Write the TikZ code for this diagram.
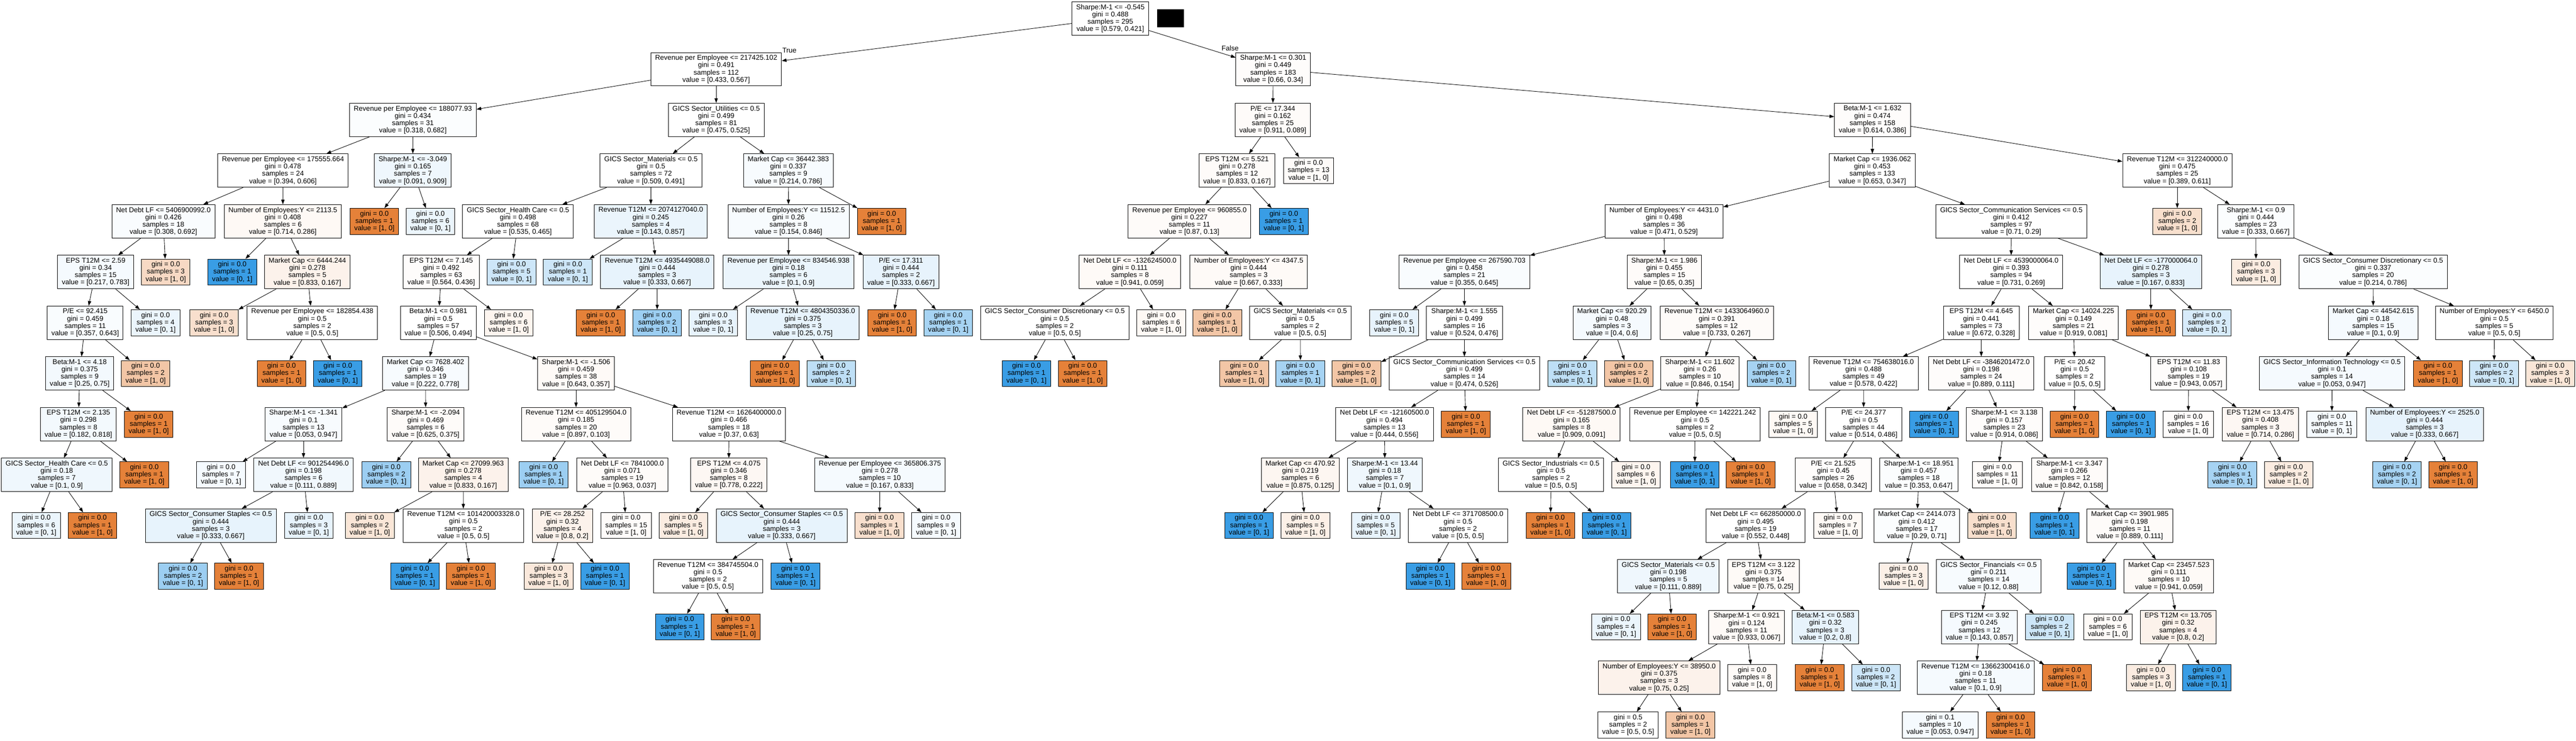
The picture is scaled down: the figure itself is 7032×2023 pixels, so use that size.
\documentclass[tikz,border=0pt]{standalone}
\usepackage{fontspec}
\setmainfont{Liberation Sans}
\usepackage{xcolor}
\usepackage{tikz}
\usetikzlibrary{arrows.meta}
\definecolor{classzero}{RGB}{229,129,57}
\definecolor{classone}{RGB}{57,157,229}
\tikzstyle{splitnode} = [rectangle, minimum height=0.91cm, inner xsep=0.115cm, inner ysep=0.02cm, text centered, align=center, draw=black, line width=0.4pt, font=\fontsize{5.43pt}{5.69pt}\selectfont]
\tikzstyle{leafnode} = [splitnode, minimum height=0.71cm]
\tikzstyle{arrow} = [line width=0.35pt, -{Triangle[length=3.7pt, width=2.6pt]}]
\tikzstyle{edgelabel} = [font=\fontsize{5.43pt}{5.69pt}\selectfont, inner sep=0pt]

\begin{document}
\begin{tikzpicture}[x=0.01cm, y=-0.01cm]
  \path [use as bounding box, fill=white] (0,0) rectangle (7032,2023);

  % Nodes
  \node (node0) [splitnode, fill=white] at (3031,50.5) {Sharpe:M-1 <= -0.545\\gini = 0.488\\samples = 295\\value = [0.579, 0.421]};
  \node (node1) [splitnode, fill=white] at (1955,189) {Revenue per Employee <= 217425.102\\gini = 0.491\\samples = 112\\value = [0.433, 0.567]};
  \node (node2) [splitnode, fill=classone!2] at (1127,327.5) {Revenue per Employee <= 188077.93\\gini = 0.434\\samples = 31\\value = [0.318, 0.682]};
  \node (node3) [splitnode, fill=white] at (772.5,466) {Revenue per Employee <= 175555.664\\gini = 0.478\\samples = 24\\value = [0.394, 0.606]};
  \node (node4) [splitnode, fill=classone!3] at (446,604.5) {Net Debt LF <= 5406900992.0\\gini = 0.426\\samples = 18\\value = [0.308, 0.692]};
  \node (node5) [splitnode, fill=classone!5] at (261,743) {EPS T12M <= 2.59\\gini = 0.34\\samples = 15\\value = [0.217, 0.783]};
  \node (node6) [splitnode, fill=classone!3] at (232.5,881.5) {P/E <= 92.415\\gini = 0.459\\samples = 11\\value = [0.357, 0.643]};
  \node (node7) [splitnode, fill=classone!6] at (217.5,1020) {Beta:M-1 <= 4.18\\gini = 0.375\\samples = 9\\value = [0.25, 0.75]};
  \node (node8) [splitnode, fill=classone!6] at (214,1158.5) {EPS T12M <= 2.135\\gini = 0.298\\samples = 8\\value = [0.182, 0.818]};
  \node (node9) [splitnode, fill=classone!8] at (155,1297) {GICS Sector\_Health Care <= 0.5\\gini = 0.18\\samples = 7\\value = [0.1, 0.9]};
  \node (node10) [leafnode, fill=classone!10] at (99,1435.5) {gini = 0.0\\samples = 6\\value = [0, 1]};
  \node (node11) [leafnode, fill=classzero] at (252.5,1435.5) {gini = 0.0\\samples = 1\\value = [1, 0]};
  \node (node12) [leafnode, fill=classzero] at (394,1297) {gini = 0.0\\samples = 1\\value = [1, 0]};
  \node (node13) [leafnode, fill=classzero] at (406,1158.5) {gini = 0.0\\samples = 1\\value = [1, 0]};
  \node (node14) [leafnode, fill=classzero!45] at (397.5,1020) {gini = 0.0\\samples = 2\\value = [1, 0]};
  \node (node15) [leafnode, fill=classone!10] at (424.5,881.5) {gini = 0.0\\samples = 4\\value = [0, 1]};
  \node (node16) [leafnode, fill=classzero!30] at (452.5,743) {gini = 0.0\\samples = 3\\value = [1, 0]};
  \node (node17) [splitnode, fill=classzero!5] at (772,604.5) {Number of Employees:Y <= 2113.5\\gini = 0.408\\samples = 6\\value = [0.714, 0.286]};
  \node (node18) [leafnode, fill=classone] at (634,743) {gini = 0.0\\samples = 1\\value = [0, 1]};
  \node (node19) [splitnode, fill=classzero!10] at (839,743) {Market Cap <= 6444.244\\gini = 0.278\\samples = 5\\value = [0.833, 0.167]};
  \node (node20) [leafnode, fill=classzero!25] at (584.5,881.5) {gini = 0.0\\samples = 3\\value = [1, 0]};
  \node (node21) [splitnode, fill=white] at (852.5,881.5) {Revenue per Employee <= 182854.438\\gini = 0.5\\samples = 2\\value = [0.5, 0.5]};
  \node (node22) [leafnode, fill=classzero] at (768.5,1020) {gini = 0.0\\samples = 1\\value = [1, 0]};
  \node (node23) [leafnode, fill=classone] at (922,1020) {gini = 0.0\\samples = 1\\value = [0, 1]};
  \node (node24) [splitnode, fill=classone!8] at (1127,466) {Sharpe:M-1 <= -3.049\\gini = 0.165\\samples = 7\\value = [0.091, 0.909]};
  \node (node25) [leafnode, fill=classzero] at (1022,604.5) {gini = 0.0\\samples = 1\\value = [1, 0]};
  \node (node26) [leafnode, fill=classone!10] at (1175,604.5) {gini = 0.0\\samples = 6\\value = [0, 1]};
  \node (node27) [splitnode, fill=white] at (1955,327.5) {GICS Sector\_Utilities <= 0.5\\gini = 0.499\\samples = 81\\value = [0.475, 0.525]};
  \node (node28) [splitnode, fill=white] at (1777,466) {GICS Sector\_Materials <= 0.5\\gini = 0.5\\samples = 72\\value = [0.509, 0.491]};
  \node (node29) [splitnode, fill=white] at (1414,604.5) {GICS Sector\_Health Care <= 0.5\\gini = 0.498\\samples = 68\\value = [0.535, 0.465]};
  \node (node30) [splitnode, fill=classzero!2] at (1204.5,743) {EPS T12M <= 7.145\\gini = 0.492\\samples = 63\\value = [0.564, 0.436]};
  \node (node31) [splitnode, fill=white] at (1196.5,881.5) {Beta:M-1 <= 0.981\\gini = 0.5\\samples = 57\\value = [0.506, 0.494]};
  \node (node32) [splitnode, fill=classone!4] at (1161.5,1020) {Market Cap <= 7628.402\\gini = 0.346\\samples = 19\\value = [0.222, 0.778]};
  \node (node33) [splitnode, fill=classone!4] at (828.5,1158.5) {Sharpe:M-1 <= -1.341\\gini = 0.1\\samples = 13\\value = [0.053, 0.947]};
  \node (node34) [leafnode, fill=classone!5] at (603.5,1297) {gini = 0.0\\samples = 7\\value = [0, 1]};
  \node (node35) [splitnode, fill=classone!7] at (828.5,1297) {Net Debt LF <= 901254496.0\\gini = 0.198\\samples = 6\\value = [0.111, 0.889]};
  \node (node36) [splitnode, fill=classone!12] at (575.5,1435.5) {GICS Sector\_Consumer Staples <= 0.5\\gini = 0.444\\samples = 3\\value = [0.333, 0.667]};
  \node (node37) [leafnode, fill=classone!50] at (499.5,1574) {gini = 0.0\\samples = 2\\value = [0, 1]};
  \node (node38) [leafnode, fill=classzero] at (652.5,1574) {gini = 0.0\\samples = 1\\value = [1, 0]};
  \node (node39) [leafnode, fill=classone!12] at (843,1435.5) {gini = 0.0\\samples = 3\\value = [0, 1]};
  \node (node40) [splitnode, fill=classzero!3] at (1162,1158.5) {Sharpe:M-1 <= -2.094\\gini = 0.469\\samples = 6\\value = [0.625, 0.375]};
  \node (node41) [leafnode, fill=classone!50] at (1054.5,1297) {gini = 0.0\\samples = 2\\value = [0, 1]};
  \node (node42) [splitnode, fill=classzero!10] at (1264.5,1297) {Market Cap <= 27099.963\\gini = 0.278\\samples = 4\\value = [0.833, 0.167]};
  \node (node43) [leafnode, fill=classzero!20] at (1009.5,1435.5) {gini = 0.0\\samples = 2\\value = [1, 0]};
  \node (node44) [splitnode, fill=white] at (1265,1435.5) {Revenue T12M <= 101420003328.0\\gini = 0.5\\samples = 2\\value = [0.5, 0.5]};
  \node (node45) [leafnode, fill=classone] at (1132.5,1574) {gini = 0.0\\samples = 1\\value = [0, 1]};
  \node (node46) [leafnode, fill=classzero] at (1285.5,1574) {gini = 0.0\\samples = 1\\value = [1, 0]};
  \node (node47) [splitnode, fill=classzero!4] at (1572.5,1020) {Sharpe:M-1 <= -1.506\\gini = 0.459\\samples = 38\\value = [0.643, 0.357]};
  \node (node48) [splitnode, fill=classzero!3] at (1572.5,1158.5) {Revenue T12M <= 405129504.0\\gini = 0.185\\samples = 20\\value = [0.897, 0.103]};
  \node (node49) [leafnode, fill=classone!50] at (1484,1297) {gini = 0.0\\samples = 1\\value = [0, 1]};
  \node (node50) [splitnode, fill=classzero!3] at (1699,1297) {Net Debt LF <= 7841000.0\\gini = 0.071\\samples = 19\\value = [0.963, 0.037]};
  \node (node51) [splitnode, fill=classzero!10] at (1535.5,1435.5) {P/E <= 28.252\\gini = 0.32\\samples = 4\\value = [0.8, 0.2]};
  \node (node52) [leafnode, fill=classzero!18] at (1497.5,1574) {gini = 0.0\\samples = 3\\value = [1, 0]};
  \node (node53) [leafnode, fill=classone] at (1651.5,1574) {gini = 0.0\\samples = 1\\value = [0, 1]};
  \node (node54) [leafnode, fill=classzero!3] at (1709.5,1435.5) {gini = 0.0\\samples = 15\\value = [1, 0]};
  \node (node55) [splitnode, fill=white] at (1990,1158.5) {Revenue T12M <= 1626400000.0\\gini = 0.466\\samples = 18\\value = [0.37, 0.63]};
  \node (node56) [splitnode, fill=classzero!6] at (1989.5,1297) {EPS T12M <= 4.075\\gini = 0.346\\samples = 8\\value = [0.778, 0.222]};
  \node (node57) [leafnode, fill=classzero!15] at (1865.5,1435.5) {gini = 0.0\\samples = 5\\value = [1, 0]};
  \node (node58) [splitnode, fill=classone!12] at (2134,1435.5) {GICS Sector\_Consumer Staples <= 0.5\\gini = 0.444\\samples = 3\\value = [0.333, 0.667]};
  \node (node59) [splitnode, fill=white] at (1932.5,1574) {Revenue T12M <= 384745504.0\\gini = 0.5\\samples = 2\\value = [0.5, 0.5]};
  \node (node60) [leafnode, fill=classone] at (1855.5,1712.5) {gini = 0.0\\samples = 1\\value = [0, 1]};
  \node (node61) [leafnode, fill=classzero] at (2008.5,1712.5) {gini = 0.0\\samples = 1\\value = [1, 0]};
  \node (node62) [leafnode, fill=classone] at (2171.5,1574) {gini = 0.0\\samples = 1\\value = [0, 1]};
  \node (node63) [splitnode, fill=classone!5] at (2402,1297) {Revenue per Employee <= 365806.375\\gini = 0.278\\samples = 10\\value = [0.167, 0.833]};
  \node (node64) [leafnode, fill=classzero!25] at (2401,1435.5) {gini = 0.0\\samples = 1\\value = [1, 0]};
  \node (node65) [leafnode, fill=classone!5] at (2555.5,1435.5) {gini = 0.0\\samples = 9\\value = [0, 1]};
  \node (node66) [leafnode, fill=classzero!8] at (1388.5,881.5) {gini = 0.0\\samples = 6\\value = [1, 0]};
  \node (node67) [leafnode, fill=classone!25] at (1396.5,743) {gini = 0.0\\samples = 5\\value = [0, 1]};
  \node (node68) [splitnode, fill=classone!10] at (1776.5,604.5) {Revenue T12M <= 2074127040.0\\gini = 0.245\\samples = 4\\value = [0.143, 0.857]};
  \node (node69) [leafnode, fill=classone!25] at (1550,743) {gini = 0.0\\samples = 1\\value = [0, 1]};
  \node (node70) [splitnode, fill=classone!12] at (1794,743) {Revenue T12M <= 4935449088.0\\gini = 0.444\\samples = 3\\value = [0.333, 0.667]};
  \node (node71) [leafnode, fill=classzero] at (1640,881.5) {gini = 0.0\\samples = 1\\value = [1, 0]};
  \node (node72) [leafnode, fill=classone!50] at (1794,881.5) {gini = 0.0\\samples = 2\\value = [0, 1]};
  \node (node73) [splitnode, fill=classone!4] at (2152,466) {Market Cap <= 36442.383\\gini = 0.337\\samples = 9\\value = [0.214, 0.786]};
  \node (node74) [splitnode, fill=classone!4] at (2152.5,604.5) {Number of Employees:Y <= 11512.5\\gini = 0.26\\samples = 8\\value = [0.154, 0.846]};
  \node (node75) [splitnode, fill=classone!10] at (2152.5,743) {Revenue per Employee <= 834546.938\\gini = 0.18\\samples = 6\\value = [0.1, 0.9]};
  \node (node76) [leafnode, fill=classone!12] at (1947,881.5) {gini = 0.0\\samples = 3\\value = [0, 1]};
  \node (node77) [splitnode, fill=classone!12] at (2191.5,881.5) {Revenue T12M <= 4804350336.0\\gini = 0.375\\samples = 3\\value = [0.25, 0.75]};
  \node (node78) [leafnode, fill=classzero] at (2115.5,1020) {gini = 0.0\\samples = 1\\value = [1, 0]};
  \node (node79) [leafnode, fill=classone!33] at (2269,1020) {gini = 0.0\\samples = 2\\value = [0, 1]};
  \node (node80) [splitnode, fill=classone!12] at (2459.5,743) {P/E <= 17.311\\gini = 0.444\\samples = 2\\value = [0.333, 0.667]};
  \node (node81) [leafnode, fill=classzero] at (2435.5,881.5) {gini = 0.0\\samples = 1\\value = [1, 0]};
  \node (node82) [leafnode, fill=classone!45] at (2588.5,881.5) {gini = 0.0\\samples = 1\\value = [0, 1]};
  \node (node83) [leafnode, fill=classzero] at (2407,604.5) {gini = 0.0\\samples = 1\\value = [1, 0]};
  \node (node84) [splitnode, fill=classzero!2] at (3475.5,189) {Sharpe:M-1 <= 0.301\\gini = 0.449\\samples = 183\\value = [0.66, 0.34]};
  \node (node85) [splitnode, fill=classzero!3] at (3474.5,327.5) {P/E <= 17.344\\gini = 0.162\\samples = 25\\value = [0.911, 0.089]};
  \node (node86) [splitnode, fill=classzero!3] at (3377,466) {EPS T12M <= 5.521\\gini = 0.278\\samples = 12\\value = [0.833, 0.167]};
  \node (node87) [splitnode, fill=classzero!3] at (3247,604.5) {Revenue per Employee <= 960855.0\\gini = 0.227\\samples = 11\\value = [0.87, 0.13]};
  \node (node88) [splitnode, fill=classzero!4] at (3084.5,743) {Net Debt LF <= -132624500.0\\gini = 0.111\\samples = 8\\value = [0.941, 0.059]};
  \node (node89) [splitnode, fill=white] at (2879.5,881.5) {GICS Sector\_Consumer Discretionary <= 0.5\\gini = 0.5\\samples = 2\\value = [0.5, 0.5]};
  \node (node90) [leafnode, fill=classone] at (2802,1020) {gini = 0.0\\samples = 1\\value = [0, 1]};
  \node (node91) [leafnode, fill=classzero] at (2955.5,1020) {gini = 0.0\\samples = 1\\value = [1, 0]};
  \node (node92) [leafnode, fill=classzero!5] at (3170,881.5) {gini = 0.0\\samples = 6\\value = [1, 0]};
  \node (node93) [splitnode, fill=classzero!4] at (3408.5,743) {Number of Employees:Y <= 4347.5\\gini = 0.444\\samples = 3\\value = [0.667, 0.333]};
  \node (node94) [leafnode, fill=classzero!45] at (3323,881.5) {gini = 0.0\\samples = 1\\value = [1, 0]};
  \node (node95) [splitnode, fill=white] at (3549.5,881.5) {GICS Sector\_Materials <= 0.5\\gini = 0.5\\samples = 2\\value = [0.5, 0.5]};
  \node (node96) [leafnode, fill=classzero!45] at (3396.5,1020) {gini = 0.0\\samples = 1\\value = [1, 0]};
  \node (node97) [leafnode, fill=classone!45] at (3550,1020) {gini = 0.0\\samples = 1\\value = [0, 1]};
  \node (node98) [leafnode, fill=classone] at (3504.5,604.5) {gini = 0.0\\samples = 1\\value = [0, 1]};
  \node (node99) [leafnode, fill=classzero!3] at (3572,466) {gini = 0.0\\samples = 13\\value = [1, 0]};
  \node (node100) [splitnode, fill=classzero!2] at (5111.5,327.5) {Beta:M-1 <= 1.632\\gini = 0.474\\samples = 158\\value = [0.614, 0.386]};
  \node (node101) [splitnode, fill=white] at (5111,466) {Market Cap <= 1936.062\\gini = 0.453\\samples = 133\\value = [0.653, 0.347]};
  \node (node102) [splitnode, fill=white] at (4542.5,604.5) {Number of Employees:Y <= 4431.0\\gini = 0.498\\samples = 36\\value = [0.471, 0.529]};
  \node (node103) [splitnode, fill=classone!3] at (3997.5,743) {Revenue per Employee <= 267590.703\\gini = 0.458\\samples = 21\\value = [0.355, 0.645]};
  \node (node104) [leafnode, fill=classone!12] at (3806,881.5) {gini = 0.0\\samples = 5\\value = [0, 1]};
  \node (node105) [splitnode, fill=white] at (3997.5,881.5) {Sharpe:M-1 <= 1.555\\gini = 0.499\\samples = 16\\value = [0.524, 0.476]};
  \node (node106) [leafnode, fill=classzero!45] at (3703,1020) {gini = 0.0\\samples = 2\\value = [1, 0]};
  \node (node107) [splitnode, fill=white] at (3997.5,1020) {GICS Sector\_Communication Services <= 0.5\\gini = 0.499\\samples = 14\\value = [0.474, 0.526]};
  \node (node108) [splitnode, fill=white] at (3779.5,1158.5) {Net Debt LF <= -12160500.0\\gini = 0.494\\samples = 13\\value = [0.444, 0.556]};
  \node (node109) [splitnode, fill=classzero!7] at (3549.5,1297) {Market Cap <= 470.92\\gini = 0.219\\samples = 6\\value = [0.875, 0.125]};
  \node (node110) [leafnode, fill=classone] at (3409.5,1435.5) {gini = 0.0\\samples = 1\\value = [0, 1]};
  \node (node111) [leafnode, fill=classzero!12] at (3563.5,1435.5) {gini = 0.0\\samples = 5\\value = [1, 0]};
  \node (node112) [splitnode, fill=classone!8] at (3780.5,1297) {Sharpe:M-1 <= 13.44\\gini = 0.18\\samples = 7\\value = [0.1, 0.9]};
  \node (node113) [leafnode, fill=classone!12] at (3755.5,1435.5) {gini = 0.0\\samples = 5\\value = [0, 1]};
  \node (node114) [splitnode, fill=white] at (3980,1435.5) {Net Debt LF <= 371708500.0\\gini = 0.5\\samples = 2\\value = [0.5, 0.5]};
  \node (node115) [leafnode, fill=classone] at (3904.5,1574) {gini = 0.0\\samples = 1\\value = [0, 1]};
  \node (node116) [leafnode, fill=classzero] at (4057.5,1574) {gini = 0.0\\samples = 1\\value = [1, 0]};
  \node (node117) [leafnode, fill=classzero] at (4001.5,1158.5) {gini = 0.0\\samples = 1\\value = [1, 0]};
  \node (node118) [splitnode, fill=classzero!3] at (4543.5,743) {Sharpe:M-1 <= 1.986\\gini = 0.455\\samples = 15\\value = [0.65, 0.35]};
  \node (node119) [splitnode, fill=classone!5] at (4400.5,881.5) {Market Cap <= 920.29\\gini = 0.48\\samples = 3\\value = [0.4, 0.6]};
  \node (node120) [leafnode, fill=classone!33] at (4292.5,1020) {gini = 0.0\\samples = 1\\value = [0, 1]};
  \node (node121) [leafnode, fill=classzero!45] at (4446.5,1020) {gini = 0.0\\samples = 2\\value = [1, 0]};
  \node (node122) [splitnode, fill=classzero!3] at (4686.5,881.5) {Revenue T12M <= 1433064960.0\\gini = 0.391\\samples = 12\\value = [0.733, 0.267]};
  \node (node123) [splitnode, fill=classzero!3] at (4640.5,1020) {Sharpe:M-1 <= 11.602\\gini = 0.26\\samples = 10\\value = [0.846, 0.154]};
  \node (node124) [splitnode, fill=classzero!5] at (4290,1158.5) {Net Debt LF <= -51287500.0\\gini = 0.165\\samples = 8\\value = [0.909, 0.091]};
  \node (node125) [splitnode, fill=white] at (4234,1297) {GICS Sector\_Industrials <= 0.5\\gini = 0.5\\samples = 2\\value = [0.5, 0.5]};
  \node (node126) [leafnode, fill=classzero] at (4232.5,1435.5) {gini = 0.0\\samples = 1\\value = [1, 0]};
  \node (node127) [leafnode, fill=classone] at (4386,1435.5) {gini = 0.0\\samples = 1\\value = [0, 1]};
  \node (node128) [leafnode, fill=classzero!8] at (4466,1297) {gini = 0.0\\samples = 6\\value = [1, 0]};
  \node (node129) [splitnode, fill=white] at (4627,1158.5) {Revenue per Employee <= 142221.242\\gini = 0.5\\samples = 2\\value = [0.5, 0.5]};
  \node (node130) [leafnode, fill=classone] at (4626.5,1297) {gini = 0.0\\samples = 1\\value = [0, 1]};
  \node (node131) [leafnode, fill=classzero] at (4779,1297) {gini = 0.0\\samples = 1\\value = [1, 0]};
  \node (node132) [leafnode, fill=classone!45] at (4835.5,1020) {gini = 0.0\\samples = 2\\value = [0, 1]};
  \node (node133) [splitnode, fill=white] at (5490.5,604.5) {GICS Sector\_Communication Services <= 0.5\\gini = 0.412\\samples = 97\\value = [0.71, 0.29]};
  \node (node134) [splitnode, fill=white] at (5490,743) {Net Debt LF <= 4539000064.0\\gini = 0.393\\samples = 94\\value = [0.731, 0.269]};
  \node (node135) [splitnode, fill=white] at (5408.5,881.5) {EPS T12M <= 4.645\\gini = 0.441\\samples = 73\\value = [0.672, 0.328]};
  \node (node136) [splitnode, fill=white] at (5087,1020) {Revenue T12M <= 754638016.0\\gini = 0.488\\samples = 49\\value = [0.578, 0.422]};
  \node (node137) [leafnode, fill=classzero!5] at (4895,1158.5) {gini = 0.0\\samples = 5\\value = [1, 0]};
  \node (node138) [splitnode, fill=white] at (5087.5,1158.5) {P/E <= 24.377\\gini = 0.5\\samples = 44\\value = [0.514, 0.486]};
  \node (node139) [splitnode, fill=classzero!2] at (5004.5,1297) {P/E <= 21.525\\gini = 0.45\\samples = 26\\value = [0.658, 0.342]};
  \node (node140) [splitnode, fill=white] at (4792.5,1435.5) {Net Debt LF <= 662850000.0\\gini = 0.495\\samples = 19\\value = [0.552, 0.448]};
  \node (node141) [splitnode, fill=classone!8] at (4554,1574) {GICS Sector\_Materials <= 0.5\\gini = 0.198\\samples = 5\\value = [0.111, 0.889]};
  \node (node142) [leafnode, fill=classone!10] at (4411.5,1712.5) {gini = 0.0\\samples = 4\\value = [0, 1]};
  \node (node143) [leafnode, fill=classzero] at (4564.5,1712.5) {gini = 0.0\\samples = 1\\value = [1, 0]};
  \node (node144) [splitnode, fill=classzero!4] at (4814,1574) {EPS T12M <= 3.122\\gini = 0.375\\samples = 14\\value = [0.75, 0.25]};
  \node (node145) [splitnode, fill=classzero!4] at (4768,1712.5) {Sharpe:M-1 <= 0.921\\gini = 0.124\\samples = 11\\value = [0.933, 0.067]};
  \node (node146) [splitnode, fill=classzero!10] at (4529,1851) {Number of Employees:Y <= 38950.0\\gini = 0.375\\samples = 3\\value = [0.75, 0.25]};
  \node (node147) [leafnode, fill=white] at (4444.5,1980) {gini = 0.5\\samples = 2\\value = [0.5, 0.5]};
  \node (node148) [leafnode, fill=classzero!45] at (4614.5,1980) {gini = 0.0\\samples = 1\\value = [1, 0]};
  \node (node149) [leafnode, fill=classzero!4] at (4783,1851) {gini = 0.0\\samples = 8\\value = [1, 0]};
  \node (node150) [splitnode, fill=classone!12] at (4983,1712.5) {Beta:M-1 <= 0.583\\gini = 0.32\\samples = 3\\value = [0.2, 0.8]};
  \node (node151) [leafnode, fill=classzero] at (4967.5,1851) {gini = 0.0\\samples = 1\\value = [1, 0]};
  \node (node152) [leafnode, fill=classone!25] at (5121,1851) {gini = 0.0\\samples = 2\\value = [0, 1]};
  \node (node153) [leafnode, fill=classzero!5] at (5017.5,1435.5) {gini = 0.0\\samples = 7\\value = [1, 0]};
  \node (node154) [splitnode, fill=classone!2] at (5238,1297) {Sharpe:M-1 <= 18.951\\gini = 0.457\\samples = 18\\value = [0.353, 0.647]};
  \node (node155) [splitnode, fill=classone!2] at (5232.5,1435.5) {Market Cap <= 2414.073\\gini = 0.412\\samples = 17\\value = [0.29, 0.71]};
  \node (node156) [leafnode, fill=classzero!12] at (5196.5,1574) {gini = 0.0\\samples = 3\\value = [1, 0]};
  \node (node157) [splitnode, fill=classone!4] at (5428.5,1574) {GICS Sector\_Financials <= 0.5\\gini = 0.211\\samples = 14\\value = [0.12, 0.88]};
  \node (node158) [splitnode, fill=classone!5] at (5403.5,1712.5) {EPS T12M <= 3.92\\gini = 0.245\\samples = 12\\value = [0.143, 0.857]};
  \node (node159) [splitnode, fill=classone!5] at (5393,1851) {Revenue T12M <= 13662300416.0\\gini = 0.18\\samples = 11\\value = [0.1, 0.9]};
  \node (node160) [leafnode, fill=classone!5] at (5296.5,1980) {gini = 0.1\\samples = 10\\value = [0.053, 0.947]};
  \node (node161) [leafnode, fill=classzero] at (5488.5,1980) {gini = 0.0\\samples = 1\\value = [1, 0]};
  \node (node162) [leafnode, fill=classzero] at (5642.5,1851) {gini = 0.0\\samples = 1\\value = [1, 0]};
  \node (node163) [leafnode, fill=classone!25] at (5595.5,1712.5) {gini = 0.0\\samples = 2\\value = [0, 1]};
  \node (node164) [leafnode, fill=classzero!25] at (5437.5,1435.5) {gini = 0.0\\samples = 1\\value = [1, 0]};
  \node (node165) [splitnode, fill=classzero!2] at (5408.5,1020) {Net Debt LF <= -3846201472.0\\gini = 0.198\\samples = 24\\value = [0.889, 0.111]};
  \node (node166) [leafnode, fill=classone] at (5279.5,1158.5) {gini = 0.0\\samples = 1\\value = [0, 1]};
  \node (node167) [splitnode, fill=classzero!2] at (5471.5,1158.5) {Sharpe:M-1 <= 3.138\\gini = 0.157\\samples = 23\\value = [0.914, 0.086]};
  \node (node168) [leafnode, fill=classzero!3] at (5452.5,1297) {gini = 0.0\\samples = 11\\value = [1, 0]};
  \node (node169) [splitnode, fill=classzero!3] at (5649,1297) {Sharpe:M-1 <= 3.347\\gini = 0.266\\samples = 12\\value = [0.842, 0.158]};
  \node (node170) [leafnode, fill=classone] at (5608.5,1435.5) {gini = 0.0\\samples = 1\\value = [0, 1]};
  \node (node171) [splitnode, fill=classzero!3] at (5814,1435.5) {Market Cap <= 3901.985\\gini = 0.198\\samples = 11\\value = [0.889, 0.111]};
  \node (node172) [leafnode, fill=classone] at (5709.5,1574) {gini = 0.0\\samples = 1\\value = [0, 1]};
  \node (node173) [splitnode, fill=classzero!4] at (5920.5,1574) {Market Cap <= 23457.523\\gini = 0.111\\samples = 10\\value = [0.941, 0.059]};
  \node (node174) [leafnode, fill=classzero!4] at (5754,1712.5) {gini = 0.0\\samples = 6\\value = [1, 0]};
  \node (node175) [splitnode, fill=classzero!10] at (5946,1712.5) {EPS T12M <= 13.705\\gini = 0.32\\samples = 4\\value = [0.8, 0.2]};
  \node (node176) [leafnode, fill=classzero!15] at (5871.5,1851) {gini = 0.0\\samples = 3\\value = [1, 0]};
  \node (node177) [leafnode, fill=classone] at (6024.5,1851) {gini = 0.0\\samples = 1\\value = [0, 1]};
  \node (node178) [splitnode, fill=classzero!2] at (5660.5,881.5) {Market Cap <= 14024.225\\gini = 0.149\\samples = 21\\value = [0.919, 0.081]};
  \node (node179) [splitnode, fill=white] at (5663.5,1020) {P/E <= 20.42\\gini = 0.5\\samples = 2\\value = [0.5, 0.5]};
  \node (node180) [leafnode, fill=classzero] at (5663,1158.5) {gini = 0.0\\samples = 1\\value = [1, 0]};
  \node (node181) [leafnode, fill=classone] at (5817,1158.5) {gini = 0.0\\samples = 1\\value = [0, 1]};
  \node (node182) [splitnode, fill=classzero!2] at (5974.5,1020) {EPS T12M <= 11.83\\gini = 0.108\\samples = 19\\value = [0.943, 0.057]};
  \node (node183) [leafnode, fill=classzero!2] at (5973.5,1158.5) {gini = 0.0\\samples = 16\\value = [1, 0]};
  \node (node184) [splitnode, fill=classzero!6] at (6170.5,1158.5) {EPS T12M <= 13.475\\gini = 0.408\\samples = 3\\value = [0.714, 0.286]};
  \node (node185) [leafnode, fill=classone!45] at (6094,1297) {gini = 0.0\\samples = 1\\value = [0, 1]};
  \node (node186) [leafnode, fill=classzero!15] at (6247.5,1297) {gini = 0.0\\samples = 2\\value = [1, 0]};
  \node (node187) [splitnode, fill=classone!12] at (5871.5,743) {Net Debt LF <= -177000064.0\\gini = 0.278\\samples = 3\\value = [0.167, 0.833]};
  \node (node188) [leafnode, fill=classzero] at (5871.5,881.5) {gini = 0.0\\samples = 1\\value = [1, 0]};
  \node (node189) [leafnode, fill=classone!20] at (6024.5,881.5) {gini = 0.0\\samples = 2\\value = [0, 1]};
  \node (node190) [splitnode, fill=white] at (5943.5,466) {Revenue T12M <= 312240000.0\\gini = 0.475\\samples = 25\\value = [0.389, 0.611]};
  \node (node191) [leafnode, fill=classzero!25] at (5943.5,604.5) {gini = 0.0\\samples = 2\\value = [1, 0]};
  \node (node192) [splitnode, fill=classone!2] at (6158,604.5) {Sharpe:M-1 <= 0.9\\gini = 0.444\\samples = 23\\value = [0.333, 0.667]};
  \node (node193) [leafnode, fill=classzero!15] at (6158.5,743) {gini = 0.0\\samples = 3\\value = [1, 0]};
  \node (node194) [splitnode, fill=classone!2] at (6478,743) {GICS Sector\_Consumer Discretionary <= 0.5\\gini = 0.337\\samples = 20\\value = [0.214, 0.786]};
  \node (node195) [splitnode, fill=classone!5] at (6478.5,881.5) {Market Cap <= 44542.615\\gini = 0.18\\samples = 15\\value = [0.1, 0.9]};
  \node (node196) [splitnode, fill=classone!5] at (6366,1020) {GICS Sector\_Information Technology <= 0.5\\gini = 0.1\\samples = 14\\value = [0.053, 0.947]};
  \node (node197) [leafnode, fill=classone!5] at (6365.5,1158.5) {gini = 0.0\\samples = 11\\value = [0, 1]};
  \node (node198) [splitnode, fill=classone!12] at (6619,1158.5) {Number of Employees:Y <= 2525.0\\gini = 0.444\\samples = 3\\value = [0.333, 0.667]};
  \node (node199) [leafnode, fill=classone!45] at (6543.5,1297) {gini = 0.0\\samples = 2\\value = [0, 1]};
  \node (node200) [leafnode, fill=classzero] at (6696.5,1297) {gini = 0.0\\samples = 1\\value = [1, 0]};
  \node (node201) [leafnode, fill=classzero] at (6655,1020) {gini = 0.0\\samples = 1\\value = [1, 0]};
  \node (node202) [splitnode, fill=white] at (6809,881.5) {Number of Employees:Y <= 6450.0\\gini = 0.5\\samples = 5\\value = [0.5, 0.5]};
  \node (node203) [leafnode, fill=classone!25] at (6808.5,1020) {gini = 0.0\\samples = 2\\value = [0, 1]};
  \node (node204) [leafnode, fill=classzero!20] at (6961.5,1020) {gini = 0.0\\samples = 3\\value = [1, 0]};

  % Edge labels
  \node (truelabel) [edgelabel] at (2155,137) {True};
  \node (falselabel) [edgelabel] at (3358,132) {False};

  % Black patch next to the root
  \fill [black] (3159,26) rectangle (3232,75);

  % Arrows
  \draw [arrow] (node0) -- (node1);
  \draw [arrow] (node0) -- (node84);
  \draw [arrow] (node1) -- (node2);
  \draw [arrow] (node1) -- (node27);
  \draw [arrow] (node2) -- (node3);
  \draw [arrow] (node2) -- (node24);
  \draw [arrow] (node3) -- (node4);
  \draw [arrow] (node3) -- (node17);
  \draw [arrow] (node4) -- (node5);
  \draw [arrow] (node4) -- (node16);
  \draw [arrow] (node5) -- (node6);
  \draw [arrow] (node5) -- (node15);
  \draw [arrow] (node6) -- (node7);
  \draw [arrow] (node6) -- (node14);
  \draw [arrow] (node7) -- (node8);
  \draw [arrow] (node7) -- (node13);
  \draw [arrow] (node8) -- (node9);
  \draw [arrow] (node8) -- (node12);
  \draw [arrow] (node9) -- (node10);
  \draw [arrow] (node9) -- (node11);
  \draw [arrow] (node17) -- (node18);
  \draw [arrow] (node17) -- (node19);
  \draw [arrow] (node19) -- (node20);
  \draw [arrow] (node19) -- (node21);
  \draw [arrow] (node21) -- (node22);
  \draw [arrow] (node21) -- (node23);
  \draw [arrow] (node24) -- (node25);
  \draw [arrow] (node24) -- (node26);
  \draw [arrow] (node27) -- (node28);
  \draw [arrow] (node27) -- (node73);
  \draw [arrow] (node28) -- (node29);
  \draw [arrow] (node28) -- (node68);
  \draw [arrow] (node29) -- (node30);
  \draw [arrow] (node29) -- (node67);
  \draw [arrow] (node30) -- (node31);
  \draw [arrow] (node30) -- (node66);
  \draw [arrow] (node31) -- (node32);
  \draw [arrow] (node31) -- (node47);
  \draw [arrow] (node32) -- (node33);
  \draw [arrow] (node32) -- (node40);
  \draw [arrow] (node33) -- (node34);
  \draw [arrow] (node33) -- (node35);
  \draw [arrow] (node35) -- (node36);
  \draw [arrow] (node35) -- (node39);
  \draw [arrow] (node36) -- (node37);
  \draw [arrow] (node36) -- (node38);
  \draw [arrow] (node40) -- (node41);
  \draw [arrow] (node40) -- (node42);
  \draw [arrow] (node42) -- (node43);
  \draw [arrow] (node42) -- (node44);
  \draw [arrow] (node44) -- (node45);
  \draw [arrow] (node44) -- (node46);
  \draw [arrow] (node47) -- (node48);
  \draw [arrow] (node47) -- (node55);
  \draw [arrow] (node48) -- (node49);
  \draw [arrow] (node48) -- (node50);
  \draw [arrow] (node50) -- (node51);
  \draw [arrow] (node50) -- (node54);
  \draw [arrow] (node51) -- (node52);
  \draw [arrow] (node51) -- (node53);
  \draw [arrow] (node55) -- (node56);
  \draw [arrow] (node55) -- (node63);
  \draw [arrow] (node56) -- (node57);
  \draw [arrow] (node56) -- (node58);
  \draw [arrow] (node58) -- (node59);
  \draw [arrow] (node58) -- (node62);
  \draw [arrow] (node59) -- (node60);
  \draw [arrow] (node59) -- (node61);
  \draw [arrow] (node63) -- (node64);
  \draw [arrow] (node63) -- (node65);
  \draw [arrow] (node68) -- (node69);
  \draw [arrow] (node68) -- (node70);
  \draw [arrow] (node70) -- (node71);
  \draw [arrow] (node70) -- (node72);
  \draw [arrow] (node73) -- (node74);
  \draw [arrow] (node73) -- (node83);
  \draw [arrow] (node74) -- (node75);
  \draw [arrow] (node74) -- (node80);
  \draw [arrow] (node75) -- (node76);
  \draw [arrow] (node75) -- (node77);
  \draw [arrow] (node77) -- (node78);
  \draw [arrow] (node77) -- (node79);
  \draw [arrow] (node80) -- (node81);
  \draw [arrow] (node80) -- (node82);
  \draw [arrow] (node84) -- (node85);
  \draw [arrow] (node84) -- (node100);
  \draw [arrow] (node85) -- (node86);
  \draw [arrow] (node85) -- (node99);
  \draw [arrow] (node86) -- (node87);
  \draw [arrow] (node86) -- (node98);
  \draw [arrow] (node87) -- (node88);
  \draw [arrow] (node87) -- (node93);
  \draw [arrow] (node88) -- (node89);
  \draw [arrow] (node88) -- (node92);
  \draw [arrow] (node89) -- (node90);
  \draw [arrow] (node89) -- (node91);
  \draw [arrow] (node93) -- (node94);
  \draw [arrow] (node93) -- (node95);
  \draw [arrow] (node95) -- (node96);
  \draw [arrow] (node95) -- (node97);
  \draw [arrow] (node100) -- (node101);
  \draw [arrow] (node100) -- (node190);
  \draw [arrow] (node101) -- (node102);
  \draw [arrow] (node101) -- (node133);
  \draw [arrow] (node102) -- (node103);
  \draw [arrow] (node102) -- (node118);
  \draw [arrow] (node103) -- (node104);
  \draw [arrow] (node103) -- (node105);
  \draw [arrow] (node105) -- (node106);
  \draw [arrow] (node105) -- (node107);
  \draw [arrow] (node107) -- (node108);
  \draw [arrow] (node107) -- (node117);
  \draw [arrow] (node108) -- (node109);
  \draw [arrow] (node108) -- (node112);
  \draw [arrow] (node109) -- (node110);
  \draw [arrow] (node109) -- (node111);
  \draw [arrow] (node112) -- (node113);
  \draw [arrow] (node112) -- (node114);
  \draw [arrow] (node114) -- (node115);
  \draw [arrow] (node114) -- (node116);
  \draw [arrow] (node118) -- (node119);
  \draw [arrow] (node118) -- (node122);
  \draw [arrow] (node119) -- (node120);
  \draw [arrow] (node119) -- (node121);
  \draw [arrow] (node122) -- (node123);
  \draw [arrow] (node122) -- (node132);
  \draw [arrow] (node123) -- (node124);
  \draw [arrow] (node123) -- (node129);
  \draw [arrow] (node124) -- (node125);
  \draw [arrow] (node124) -- (node128);
  \draw [arrow] (node125) -- (node126);
  \draw [arrow] (node125) -- (node127);
  \draw [arrow] (node129) -- (node130);
  \draw [arrow] (node129) -- (node131);
  \draw [arrow] (node133) -- (node134);
  \draw [arrow] (node133) -- (node187);
  \draw [arrow] (node134) -- (node135);
  \draw [arrow] (node134) -- (node178);
  \draw [arrow] (node135) -- (node136);
  \draw [arrow] (node135) -- (node165);
  \draw [arrow] (node136) -- (node137);
  \draw [arrow] (node136) -- (node138);
  \draw [arrow] (node138) -- (node139);
  \draw [arrow] (node138) -- (node154);
  \draw [arrow] (node139) -- (node140);
  \draw [arrow] (node139) -- (node153);
  \draw [arrow] (node140) -- (node141);
  \draw [arrow] (node140) -- (node144);
  \draw [arrow] (node141) -- (node142);
  \draw [arrow] (node141) -- (node143);
  \draw [arrow] (node144) -- (node145);
  \draw [arrow] (node144) -- (node150);
  \draw [arrow] (node145) -- (node146);
  \draw [arrow] (node145) -- (node149);
  \draw [arrow] (node146) -- (node147);
  \draw [arrow] (node146) -- (node148);
  \draw [arrow] (node150) -- (node151);
  \draw [arrow] (node150) -- (node152);
  \draw [arrow] (node154) -- (node155);
  \draw [arrow] (node154) -- (node164);
  \draw [arrow] (node155) -- (node156);
  \draw [arrow] (node155) -- (node157);
  \draw [arrow] (node157) -- (node158);
  \draw [arrow] (node157) -- (node163);
  \draw [arrow] (node158) -- (node159);
  \draw [arrow] (node158) -- (node162);
  \draw [arrow] (node159) -- (node160);
  \draw [arrow] (node159) -- (node161);
  \draw [arrow] (node165) -- (node166);
  \draw [arrow] (node165) -- (node167);
  \draw [arrow] (node167) -- (node168);
  \draw [arrow] (node167) -- (node169);
  \draw [arrow] (node169) -- (node170);
  \draw [arrow] (node169) -- (node171);
  \draw [arrow] (node171) -- (node172);
  \draw [arrow] (node171) -- (node173);
  \draw [arrow] (node173) -- (node174);
  \draw [arrow] (node173) -- (node175);
  \draw [arrow] (node175) -- (node176);
  \draw [arrow] (node175) -- (node177);
  \draw [arrow] (node178) -- (node179);
  \draw [arrow] (node178) -- (node182);
  \draw [arrow] (node179) -- (node180);
  \draw [arrow] (node179) -- (node181);
  \draw [arrow] (node182) -- (node183);
  \draw [arrow] (node182) -- (node184);
  \draw [arrow] (node184) -- (node185);
  \draw [arrow] (node184) -- (node186);
  \draw [arrow] (node187) -- (node188);
  \draw [arrow] (node187) -- (node189);
  \draw [arrow] (node190) -- (node191);
  \draw [arrow] (node190) -- (node192);
  \draw [arrow] (node192) -- (node193);
  \draw [arrow] (node192) -- (node194);
  \draw [arrow] (node194) -- (node195);
  \draw [arrow] (node194) -- (node202);
  \draw [arrow] (node195) -- (node196);
  \draw [arrow] (node195) -- (node201);
  \draw [arrow] (node196) -- (node197);
  \draw [arrow] (node196) -- (node198);
  \draw [arrow] (node198) -- (node199);
  \draw [arrow] (node198) -- (node200);
  \draw [arrow] (node202) -- (node203);
  \draw [arrow] (node202) -- (node204);

\end{tikzpicture}
\end{document}
